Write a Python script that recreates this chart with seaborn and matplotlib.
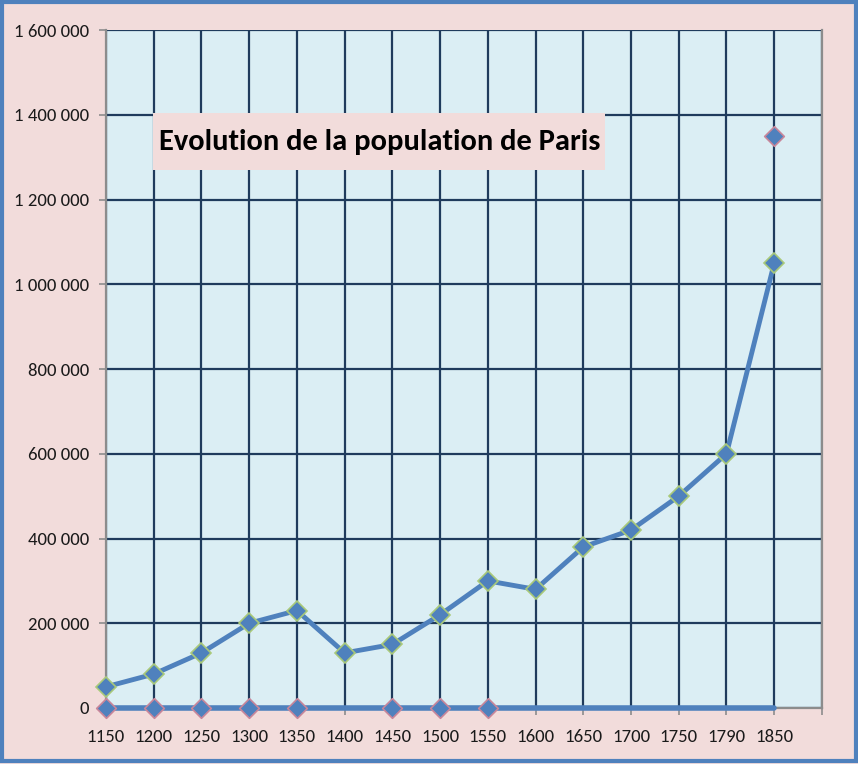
import matplotlib
matplotlib.use('Agg')
import numpy as np
import pandas as pd
import matplotlib.pyplot as plt
from matplotlib.patches import Rectangle
import seaborn as sns

years = ['1150', '1200', '1250', '1300', '1350', '1400', '1450', '1500',
         '1550', '1600', '1650', '1700', '1750', '1790', '1850']
population = [50000, 80000, 130000, 200000, 230000, 130000, 150000, 220000,
              300000, 280000, 380000, 420000, 500000, 600000, 1050000]
baseline = [0] * 15
second = [0, 0, 0, 0, 0, np.nan, 0, 0, 0, np.nan, np.nan, np.nan, np.nan, np.nan, 1350000]
yticks = list(range(0, 1600001, 200000))

pink = '#F2DCDB'
plot_bg = '#DBEEF4'
grid_col = '#1F3B5C'
line_col = '#4F81BD'

sns.set_style('ticks')
plt.rcParams['font.family'] = ['Carlito', 'DejaVu Sans']

df = pd.DataFrame({'annee': years, 'population': population,
                   'base': baseline, 'serie2': second})

fig = plt.figure(figsize=(8.58, 7.64), dpi=100, facecolor=pink)
ax = fig.add_axes([0.1235, 0.0733, 0.8345, 0.8874])
ax.set_facecolor(plot_bg)

# line at zero (second series)
sns.lineplot(data=df, x='annee', y='base', sort=False, color=line_col,
             linewidth=4, ax=ax, zorder=3, clip_on=False)
# main series
sns.lineplot(data=df, x='annee', y='population', sort=False, color=line_col,
             linewidth=3.5, marker='D', markersize=10, markerfacecolor=line_col,
             markeredgecolor='#A9C97A', markeredgewidth=1.2, ax=ax, zorder=4,
             clip_on=False)
sns.scatterplot(data=df.dropna(), x='annee', y='serie2', marker='D', s=100,
                color=line_col, edgecolor='#C8869A', linewidth=1.2, ax=ax,
                zorder=5, clip_on=False)

ax.set_xlim(0, 15)
ax.set_ylim(0, 1600000)
ax.set_xticks(range(16))
ax.set_xticklabels(years + [''])
ax.set_yticks(yticks)
ax.set_yticklabels([f'{v:,}'.replace(',', ' ') for v in yticks])
ax.set_xlabel('')
ax.set_ylabel('')

ax.set_axisbelow(True)
ax.grid(True, color=grid_col, linewidth=1.6)
for side in ['left', 'bottom', 'right']:
    ax.spines[side].set_color('#8C8C8C')
    ax.spines[side].set_linewidth(1.6)
ax.spines['top'].set_visible(False)
ax.tick_params(axis='both', direction='out', length=5, width=1.2,
               color='#8C8C8C', labelsize=13.5, labelcolor='#1A1A1A')
ax.tick_params(axis='x', pad=10)
ax.tick_params(axis='y', pad=7)

# title box hiding the grid
fig.patches.append(Rectangle((0.1783, 0.7775), 0.5268, 0.0746, transform=fig.transFigure,
                             fc=pink, ec='none'))
fig.text(0.4429, 0.8145, 'Evolution de la population de Paris', ha='center',
         va='center', fontsize=22, fontweight='bold', color='black', zorder=10)

fig.patches.append(Rectangle((0.002, 0.004), 0.996, 0.993, transform=fig.transFigure,
                             fill=False, ec=line_col, lw=3))

fig.savefig('out.png', dpi=100, facecolor=pink)
